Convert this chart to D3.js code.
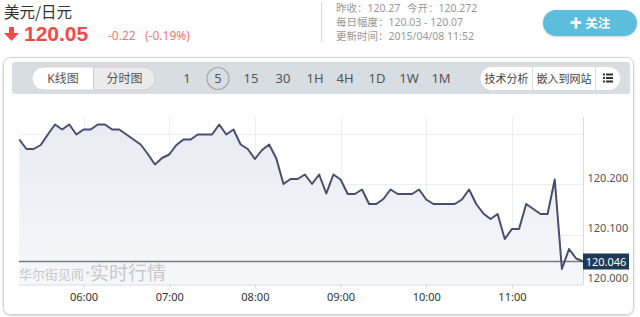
<!DOCTYPE html>
<html><head><meta charset="utf-8">
<script src="https://cdn.jsdelivr.net/npm/d3@7"></script>
<style>
html,body{margin:0;padding:0;background:#fff;}
svg{display:block;font-family:"Noto Sans","Noto Sans CJK SC",sans-serif;}
</style></head>
<body>
<svg id="c" width="640" height="317"></svg>
<script>
// ---- data ----
const startTime = "05:15";
const stepMinutes = 5;
const prices = [
 120.290,120.271,120.271,120.279,120.300,120.320,120.310,120.320,120.300,120.310,
 120.310,120.320,120.320,120.310,120.310,120.300,120.290,120.280,120.261,120.240,
 120.253,120.260,120.279,120.290,120.290,120.300,120.300,120.300,120.320,120.300,
 120.310,120.280,120.271,120.251,120.269,120.280,120.252,120.201,120.211,120.211,
 120.220,120.201,120.220,120.182,120.220,120.210,120.181,120.181,120.190,120.161,
 120.161,120.171,120.190,120.181,120.181,120.181,120.190,120.170,120.161,120.161,
 120.161,120.161,120.170,120.190,120.161,120.142,120.131,120.141,120.091,120.111,
 120.111,120.161,120.151,120.141,120.141,120.210,120.031,120.071,120.052,120.046
];
const xTickLabels = ["06:00","07:00","08:00","09:00","10:00","11:00"];
const yTickValues = [120.0, 120.1, 120.2, 120.3];
const yTickLabels = ["120.000","120.100","120.200",""];
const lastPrice = 120.046;
const periods = ["1","5","15","30","1H","4H","1D","1W","1M"];
const selectedPeriod = "5";
const title = "美元/日元";
const priceText = "120.05";
const changeText = "-0.22";
const changePct = "(-0.19%)";
const infoLines = [["昨收：120.27","今开：120.272"],["每日幅度：120.03 - 120.07"],["更新时间：2015/04/08 11:52"]];

// ---- build ----
const svg = d3.select("#c");
const parseT = d3.timeParse("%H:%M");
const t0 = parseT(startTime);
const data = prices.map((v,i)=>({t:new Date(t0.getTime()+i*stepMinutes*60000), v}));

const defs = svg.append("defs");
const f = defs.append("filter").attr("id","sh").attr("x","-5%").attr("y","-5%").attr("width","110%").attr("height","115%");
f.append("feDropShadow").attr("dx",0).attr("dy",1).attr("stdDeviation",1.2).attr("flood-color","#000").attr("flood-opacity",0.18);
const g = defs.append("linearGradient").attr("id","ag").attr("x1",0).attr("y1",0).attr("x2",0).attr("y2",1);
g.append("stop").attr("offset","0%").attr("stop-color","#e8ebf2");
g.append("stop").attr("offset","100%").attr("stop-color","#f6f7fa");

// header
svg.append("text").attr("x",4).attr("y",18).attr("font-size",15.5).attr("fill","#333")
  .attr("font-family","'Noto Sans CJK SC',sans-serif").text(title);
svg.append("path").attr("d","M9,27 h5 v6 h5 l-7.5,8 l-7.5,-8 h5 z").attr("fill","#f04a4a");
svg.append("text").attr("x",24).attr("y",41).attr("font-size",21).attr("font-weight","bold").attr("fill","#f04a4a")
  .attr("font-family","'Liberation Sans',sans-serif").text(priceText);
svg.append("text").attr("x",108).attr("y",40).attr("font-size",12).attr("fill","#f57878").text(changeText);
svg.append("text").attr("x",145).attr("y",40).attr("font-size",12).attr("fill","#f57878").text(changePct);
svg.append("line").attr("x1",321.5).attr("x2",321.5).attr("y1",2).attr("y2",42).attr("stroke","#d8d8d8");
infoLines.forEach((ln,i)=>{
  svg.append("text").attr("x",336).attr("y",12+i*14).attr("font-size",10.5).attr("fill","#999").text(ln[0]);
  if(ln[1]) svg.append("text").attr("x",407).attr("y",12+i*14).attr("font-size",10.5).attr("fill","#999").text(ln[1]);
});
svg.append("rect").attr("x",543).attr("y",10).attr("width",94).attr("height",26).attr("rx",13)
  .attr("fill","#5bbddc").attr("filter","url(#sh)");
svg.append("text").attr("x",590).attr("y",27.5).attr("text-anchor","middle").attr("font-size",12.5)
  .attr("fill","#fff").attr("font-weight","bold").text("✚ 关注");

// panel
svg.append("rect").attr("x",3.5).attr("y",57.5).attr("width",630).attr("height",257).attr("rx",7)
  .attr("fill","#fff").attr("stroke","#d4d4d4").attr("filter","url(#sh)");
// toolbar
svg.append("rect").attr("x",12).attr("y",62).attr("width",618).attr("height",32).attr("rx",3).attr("fill","#d8dde2");
svg.append("rect").attr("x",32).attr("y",67).attr("width",123).attr("height",23).attr("rx",11.5).attr("fill","#ebebeb").attr("stroke","#cfcfcf");
svg.append("path").attr("d","M93.5,67.5 h-50 a11,11 0 0 0 0,22 h50 z").attr("fill","#fff");
svg.append("line").attr("x1",93.5).attr("x2",93.5).attr("y1",67.5).attr("y2",89.5).attr("stroke","#d0d0d0");
svg.append("text").attr("x",63).attr("y",82.5).attr("text-anchor","middle").attr("font-size",12).attr("fill","#555").text("K线图");
svg.append("text").attr("x",124.5).attr("y",82.5).attr("text-anchor","middle").attr("font-size",12).attr("fill","#555").text("分时图");
const px = [187,218,251,283,315,345,377,409,441];
periods.forEach((p,i)=>{
  if(p===selectedPeriod) svg.append("circle").attr("cx",px[i]).attr("cy",78.5).attr("r",11).attr("fill","none").attr("stroke","#aaa").attr("stroke-width",1.2);
  svg.append("text").attr("x",px[i]).attr("y",83).attr("text-anchor","middle").attr("font-size",13).attr("fill","#555").text(p);
});
svg.append("rect").attr("x",480.5).attr("y",67).attr("width",139.5).attr("height",23).attr("rx",11.5).attr("fill","#fff");
[532.5,595.5].forEach(x=>svg.append("line").attr("x1",x).attr("x2",x).attr("y1",67).attr("y2",90).attr("stroke","#dcdcdc"));
svg.append("text").attr("x",506.5).attr("y",82.5).attr("text-anchor","middle").attr("font-size",11).attr("fill","#444").text("技术分析");
svg.append("text").attr("x",564).attr("y",82.5).attr("text-anchor","middle").attr("font-size",11).attr("fill","#444").text("嵌入到网站");
[74.5,78,81.5].forEach(y=>{
  svg.append("rect").attr("x",603).attr("y",y-1).attr("width",2).attr("height",2).attr("fill","#333");
  svg.append("rect").attr("x",606).attr("y",y-1).attr("width",7).attr("height",2).attr("fill","#333");
});

// chart
const x = d3.scaleTime().domain([data[0].t, data[data.length-1].t]).range([19.3,583.3]);
const y = d3.scaleLinear().domain([120.0,120.335]).range([284.5,117]);
const plot = svg.append("g");
// vertical grid
const hourTicks = xTickLabels.map(s=>parseT(s));
plot.selectAll(".vg").data(hourTicks).enter().append("line")
  .attr("x1",d=>Math.round(x(d))+0.5).attr("x2",d=>Math.round(x(d))+0.5).attr("y1",117).attr("y2",284.5)
  .attr("stroke","#eceef2");
plot.selectAll(".hg").data(yTickValues.slice(1)).enter().append("line")
  .attr("x1",19).attr("x2",583).attr("y1",d=>Math.round(y(d))+0.5).attr("y2",d=>Math.round(y(d))+0.5)
  .attr("stroke","#eceef2");
// area
const area = d3.area().x(d=>x(d.t)).y0(y(120.0)).y1(d=>y(d.v));
plot.append("path").datum(data).attr("d",area).attr("fill","url(#ag)");
// watermark
svg.append("text").attr("x",19).attr("y",279).attr("font-size",13).attr("fill","#c8c8cc").text("华尔街见闻");
svg.append("text").attr("x",85).attr("y",280).attr("font-size",19).attr("fill","#c8c8cc").text("·实时行情");
// price line
plot.append("line").attr("x1",19).attr("x2",583).attr("y1",y(lastPrice)).attr("y2",y(lastPrice)).attr("stroke","#7a7a7a").attr("stroke-width",1.5);
// line
const line = d3.line().x(d=>x(d.t)).y(d=>y(d.v));
plot.append("path").datum(data).attr("d",line).attr("fill","none").attr("stroke","#4a4d70").attr("stroke-width",2).attr("stroke-linejoin","round");
// axes
const xAxis = d3.axisBottom(x).tickValues(hourTicks).tickFormat((d,i)=>xTickLabels[i]).tickSize(4).tickSizeOuter(0);
const xa = svg.append("g").attr("transform","translate(0,284.5)").call(xAxis);
xa.select(".domain").attr("stroke","#cfdbe8").attr("d","M19,0.5H583");
xa.selectAll(".tick line").attr("stroke","#cfdbe8");
xa.selectAll(".tick text").attr("font-size",11).attr("fill","#333").attr("dy","0.9em").attr("font-family","'Noto Sans',sans-serif");
const yAxis = d3.axisRight(y).tickValues(yTickValues).tickFormat((d,i)=>yTickLabels[i]).tickSize(0);
const ya = svg.append("g").attr("transform","translate(583.5,0)").call(yAxis);
ya.select(".domain").attr("stroke","#cfdbe8").attr("d","M0,117V284.5");
ya.selectAll(".tick text").attr("x",4).attr("dy","-0.3em").attr("font-size",11).attr("fill","#555").attr("font-family","'Noto Sans',sans-serif");
// last price label
svg.append("rect").attr("x",583).attr("y",y(lastPrice)-8).attr("width",46).attr("height",16).attr("fill","#1d3a56");
svg.append("text").attr("x",606).attr("y",y(lastPrice)+4).attr("text-anchor","middle").attr("font-size",11).attr("fill","#fff").text(d3.format(".3f")(lastPrice));
</script>
</body></html>
